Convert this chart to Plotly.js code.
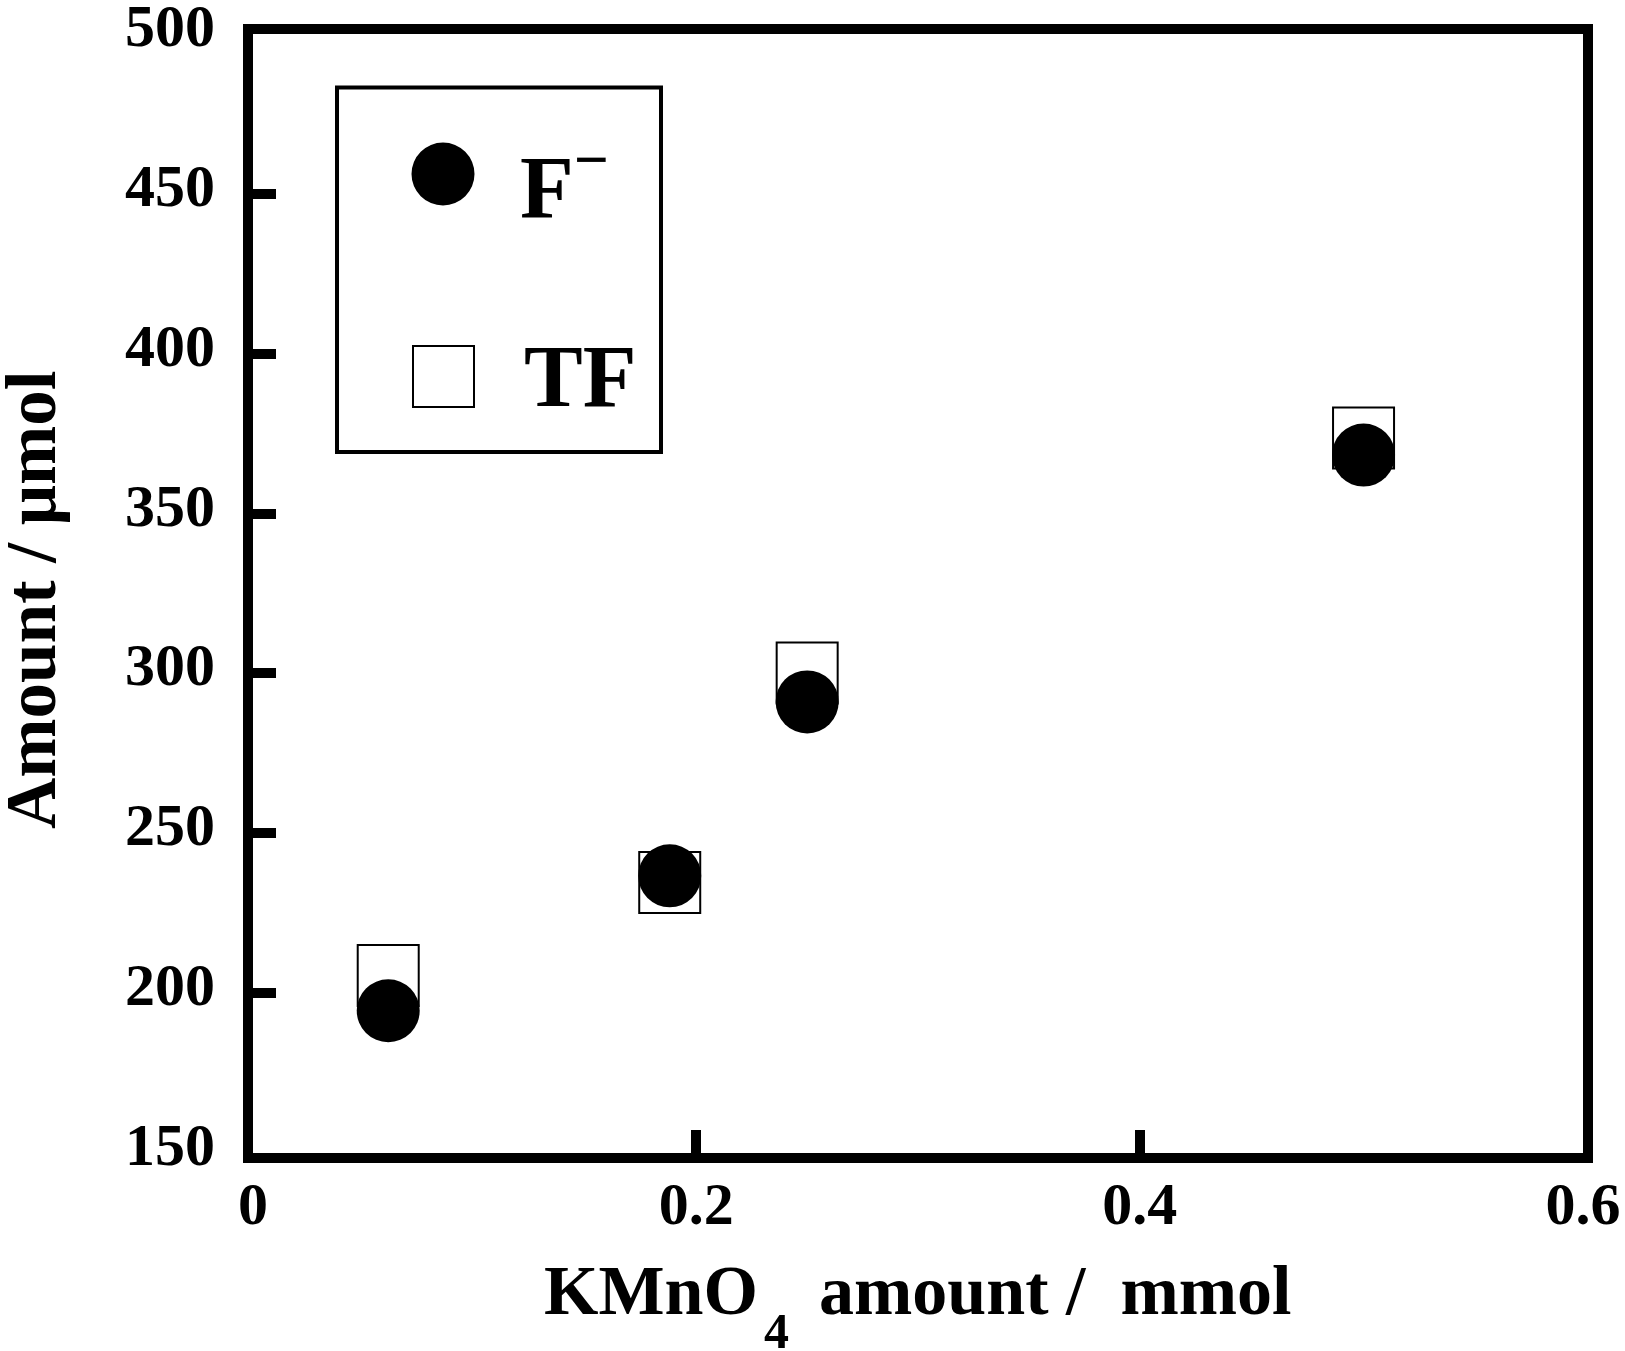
<!DOCTYPE html>
<html>
<head>
<meta charset="utf-8">
<script src="https://cdn.plot.ly/plotly-3.0.1.min.js"></script>
<style>html,body{margin:0;padding:0;background:#fff;}#chart{width:1625px;height:1351px;}</style>
</head>
<body>
<div id="chart"></div>
<script>
// ---- data ----
const kmno4Amount = [0.061, 0.188, 0.25, 0.501];          // mmol
const fluorideIon = [194.5, 236.7, 291.1, 368.3];         // F−, µmol
const totalFluorine = [205.5, 234.6, 300.1, 373.6];       // TF, µmol
const seriesNames = ["F<sup>−</sup>", "TF"];
const xTickVals = [0, 0.2, 0.4, 0.6];
const xTickText = ["0", "0.2", "0.4", "0.6"];
const yTickVals = [150, 200, 250, 300, 350, 400, 450, 500];
const yTickText = ["150", "200", "250", "300", "350", "400", "450", "500"];
const xTitleParts = ["KMnO", "4", "amount /  mmol"];
const yTitle = "Amount / μmol";

// ---- layout helpers ----
const W = 1625, H = 1351;
const M = {l: 253, r: 42, t: 34, b: 198};
const PW = W - M.l - M.r, PH = H - M.t - M.b;
const px2x = p => (p - M.l) / PW;
const px2y = p => (H - M.b - p) / PH;
const FONT = "Liberation Serif, Times New Roman, serif";

const traces = [
  {
    x: kmno4Amount, y: totalFluorine, name: seriesNames[1],
    type: "scatter", mode: "markers", showlegend: false, cliponaxis: false,
    marker: {symbol: "square", size: 61, color: "#ffffff", line: {color: "#000", width: 2}}
  },
  {
    x: kmno4Amount, y: fluorideIon, name: seriesNames[0],
    type: "scatter", mode: "markers", showlegend: false, cliponaxis: false,
    marker: {symbol: "circle", size: 63, color: "#000", line: {width: 0}}
  }
];

const axisCommon = {
  showgrid: false, zeroline: false, showline: true, linecolor: "#000", linewidth: 10,
  mirror: true, ticks: "inside", ticklen: 23, tickwidth: 10, tickcolor: "#000",
  tickfont: {family: FONT, size: 60, color: "#000", weight: "bold"}, tickmode: "array",
  ticklabeloverflow: "allow"
};

const layout = {
  width: W, height: H, margin: M,
  paper_bgcolor: "#fff", plot_bgcolor: "#fff", showlegend: false,
  xaxis: Object.assign({}, axisCommon, {
    range: [0, 0.6], tickvals: xTickVals, ticktext: xTickText, ticklabelstandoff: -11
  }),
  yaxis: Object.assign({}, axisCommon, {
    range: [150, 500], tickvals: yTickVals, ticktext: yTickText, ticklabelstandoff: 16, ticklabelshift: -9
  }),
  shapes: [
    {type: "rect", xref: "paper", yref: "paper", x0: px2x(337), x1: px2x(661), y0: px2y(452), y1: px2y(87.5),
     line: {color: "#000", width: 4}, fillcolor: "rgba(0,0,0,0)"},
    {type: "circle", xref: "paper", yref: "paper", xsizemode: "pixel", ysizemode: "pixel",
     xanchor: px2x(443), yanchor: px2y(174), x0: -31.5, x1: 31.5, y0: -31.5, y1: 31.5,
     fillcolor: "#000", line: {width: 0}},
    {type: "rect", xref: "paper", yref: "paper", xsizemode: "pixel", ysizemode: "pixel",
     xanchor: px2x(443.5), yanchor: px2y(376.5), x0: -30.5, x1: 30.5, y0: -30.5, y1: 30.5,
     fillcolor: "#fff", line: {color: "#000", width: 2}}
  ],
  annotations: [
    {text: seriesNames[0], xref: "paper", yref: "paper", x: px2x(518), y: px2y(180), xanchor: "left", yanchor: "middle",
     showarrow: false, font: {family: FONT, size: 88, color: "#000", weight: "bold"}},
    {text: seriesNames[1], xref: "paper", yref: "paper", x: px2x(522), y: px2y(376), xanchor: "left", yanchor: "middle",
     showarrow: false, font: {family: FONT, size: 88, color: "#000", weight: "bold"}},
    {text: xTitleParts[0], xref: "paper", yref: "paper", x: px2x(760), y: px2y(1290), xanchor: "right", yanchor: "middle",
     showarrow: false, font: {family: FONT, size: 70, color: "#000", weight: "bold"}},
    {text: xTitleParts[1], xref: "paper", yref: "paper", x: px2x(776), y: px2y(1331), xanchor: "center", yanchor: "middle",
     showarrow: false, font: {family: FONT, size: 50, color: "#000", weight: "bold"}},
    {text: xTitleParts[2], xref: "paper", yref: "paper", x: px2x(817), y: px2y(1290), xanchor: "left", yanchor: "middle",
     showarrow: false, font: {family: FONT, size: 70, color: "#000", weight: "bold"}},
    {text: yTitle, xref: "paper", yref: "paper", x: px2x(31), y: px2y(600), xanchor: "center", yanchor: "middle",
     textangle: -90, showarrow: false, font: {family: FONT, size: 71, color: "#000", weight: "bold"}}
  ]
};

Plotly.newPlot("chart", traces, layout, {displayModeBar: false, staticPlot: true});
</script>
</body>
</html>
